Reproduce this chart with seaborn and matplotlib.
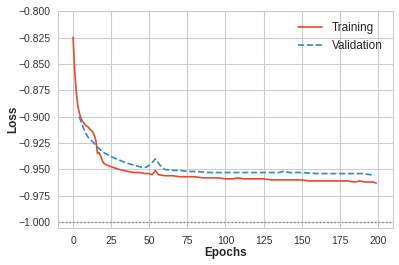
import matplotlib
matplotlib.use("Agg")
import matplotlib.pyplot as plt
import seaborn as sns
import pandas as pd

train_epochs = [0, 1, 2, 3, 4, 5, 6, 7, 8, 9, 10, 11, 12, 13, 14, 15, 16, 17, 18, 19, 20, 22, 24, 26, 28, 30,
                33, 36, 40, 44, 47, 50, 52, 54, 56, 60, 65, 70, 75, 80, 85, 90, 95, 100, 105, 108, 112, 118,
                125, 130, 135, 140, 145, 150, 155, 160, 165, 170, 175, 180, 185, 188, 192, 195, 197, 199]
train_loss = [-0.825, -0.855, -0.875, -0.889, -0.896, -0.901, -0.904, -0.906, -0.908, -0.909, -0.910, -0.912,
              -0.913, -0.915, -0.918, -0.923, -0.935, -0.934, -0.937, -0.941, -0.944, -0.946, -0.947, -0.948,
              -0.949, -0.950, -0.951, -0.952, -0.953, -0.953, -0.954, -0.954, -0.955, -0.951, -0.955, -0.956,
              -0.956, -0.957, -0.957, -0.957, -0.958, -0.958, -0.958, -0.959, -0.959, -0.958, -0.959, -0.959,
              -0.959, -0.960, -0.960, -0.960, -0.960, -0.960, -0.961, -0.961, -0.961, -0.961, -0.961, -0.961,
              -0.962, -0.961, -0.962, -0.962, -0.962, -0.963]

val_epochs = [4, 6, 8, 10, 13, 16, 20, 25, 30, 35, 40, 45, 48, 51, 54, 57, 60, 65, 70, 75, 80, 90, 100,
              110, 120, 130, 135, 138, 142, 150, 160, 170, 180, 190, 195, 198]
val_loss = [-0.900, -0.908, -0.915, -0.920, -0.924, -0.929, -0.934, -0.938, -0.941, -0.944, -0.946, -0.948,
            -0.948, -0.945, -0.940, -0.946, -0.950, -0.951, -0.951, -0.952, -0.952, -0.953, -0.953, -0.953,
            -0.953, -0.953, -0.953, -0.952, -0.953, -0.953, -0.954, -0.954, -0.954, -0.954, -0.955, -0.955]

sns.set_style("whitegrid")
plt.rcParams['font.family'] = ['Liberation Sans', 'DejaVu Sans']

fig, ax = plt.subplots(figsize=(3.99, 2.65), dpi=100)
fig.subplots_adjust(left=0.145, right=0.985, top=0.958, bottom=0.14)

df_t = pd.DataFrame({"Epochs": train_epochs, "Loss": train_loss})
df_v = pd.DataFrame({"Epochs": val_epochs, "Loss": val_loss})
sns.lineplot(data=df_t, x="Epochs", y="Loss", ax=ax, color="#E24A33", lw=1.2, label="Training")
sns.lineplot(data=df_v, x="Epochs", y="Loss", ax=ax, color="#348ABD", lw=1.2, ls="--", label="Validation")
ax.axhline(-1.0, color="gray", ls=":", lw=1.0)

ax.set_xlim(-10, 210)
ax.set_ylim(-1.0055, -0.8)
ax.set_yticks([-0.800, -0.825, -0.850, -0.875, -0.900, -0.925, -0.950, -0.975, -1.000])
ax.set_yticklabels([f"{v:.3f}".replace("-", "\u2212") for v in ax.get_yticks()])
ax.set_xticks([0, 25, 50, 75, 100, 125, 150, 175, 200])
ax.tick_params(labelsize=7.5, colors="#333333", pad=2)
ax.set_xlabel("Epochs", fontsize=8.5, fontweight="bold", labelpad=1)
ax.set_ylabel("Loss", fontsize=8.5, fontweight="bold", labelpad=-1)
ax.legend(loc="upper right", frameon=False, fontsize=8.5)

fig.savefig("out.png", dpi=100)
